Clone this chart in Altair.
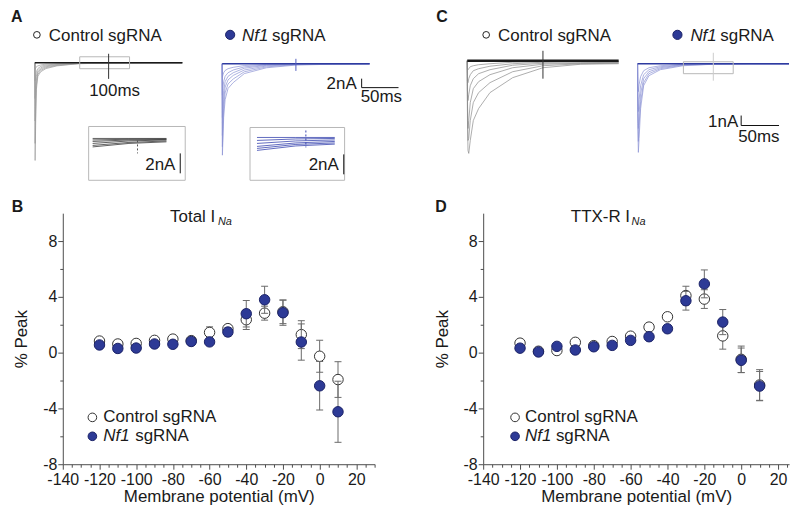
import altair as alt
import pandas as pd

FONT = "Liberation Sans"
BLUE = "#2D3A96"
BLUE_EDGE = "#1B2266"
AX = "#4d4d4d"
TXT = "#1a1a1a"

# ---------------- I-V data (panels B and D) ----------------
voltage = [-120, -110, -100, -90, -80, -70, -60, -50, -40, -30, -20, -10, 0, 10]

b_ctrl_mean = [0.83, 0.62, 0.66, 0.88, 0.97, 0.86, 1.45, 1.72, 2.36, 2.83, 2.93, 1.29, -0.26, -1.93]
b_ctrl_sem = [0.15, 0.15, 0.15, 0.15, 0.15, 0.15, 0.40, 0.25, 0.70, 0.50, 0.85, 1.00, 1.14, 1.28]
b_nf1_mean = [0.55, 0.30, 0.33, 0.62, 0.60, 0.80, 0.77, 1.48, 2.79, 3.79, 2.86, 0.76, -2.38, -4.24]
b_nf1_sem = [0.20, 0.20, 0.25, 0.20, 0.20, 0.15, 0.15, 0.30, 0.95, 0.97, 0.90, 1.30, 1.74, 2.19]

d_ctrl_mean = [0.68, 0.10, 0.15, 0.74, 0.50, 0.80, 1.18, 1.83, 2.57, 4.09, 3.84, 1.20, -0.48, -2.32]
d_ctrl_sem = [0.15, 0.10, 0.15, 0.15, 0.15, 0.20, 0.20, 0.20, 0.20, 0.67, 0.67, 0.95, 0.95, 1.10]
d_nf1_mean = [0.32, 0.05, 0.45, 0.19, 0.42, 0.52, 0.88, 1.14, 1.71, 3.72, 4.93, 2.19, -0.55, -2.40]
d_nf1_sem = [0.15, 0.10, 0.15, 0.20, 0.15, 0.20, 0.20, 0.15, 0.15, 0.67, 1.00, 0.90, 0.88, 1.05]

x_major = [-140, -120, -100, -80, -60, -40, -20, 0, 20]
y_major = [-8, -4, 0, 4, 8]
y_minor = [-6, -2, 2, 6]

# ---------------- current traces (panels A and C), time in ms, current in nA ----------------
trace_t = [0, 0.3, 1, 2, 4, 8, 15, 30, 60, 100, 150, 200]
baseline_t = [0, 200]
baseline_i = [0, 0]

a_ctrl_traces = [
    [0, -21.8, -14, -6, -3.0, -2.0, -1.3, -0.7, -0.2, -0.1, 0, 0],
    [0, -18, -11, -5, -2.6, -1.7, -1.1, -0.6, -0.2, -0.1, 0, 0],
    [0, -13, -8, -4, -2.2, -1.4, -0.9, -0.5, -0.15, -0.05, 0, 0],
    [0, -8, -5, -3, -1.8, -1.1, -0.7, -0.4, -0.1, 0, 0, 0],
    [0, -4, -3, -2, -1.3, -0.8, -0.5, -0.3, -0.1, 0, 0, 0],
    [0, -1.5, -1.2, -0.9, -0.7, -0.5, -0.3, -0.2, -0.05, 0, 0, 0],
]
a_nf1_traces = [
    [0, -20.4, -17, -12, -8, -5.5, -4.2, -2.2, -0.9, -0.3, -0.1, 0],
    [0, -18.5, -15, -10, -6.5, -4.5, -3.4, -1.8, -0.7, -0.2, -0.1, 0],
    [0, -16, -12, -8, -5.2, -3.6, -2.6, -1.4, -0.5, -0.15, 0, 0],
    [0, -12, -9, -6, -4, -2.8, -2.0, -1.0, -0.35, -0.1, 0, 0],
    [0, -7, -5.5, -4, -2.8, -2.0, -1.4, -0.7, -0.25, -0.05, 0, 0],
    [0, -3, -2.5, -2, -1.5, -1.1, -0.8, -0.4, -0.15, 0, 0, 0],
]
c_ctrl_traces = [
    [0, -6, -9.0, -9.3, -8.0, -6.0, -4.8, -3.2, -1.7, -0.7, -0.35, -0.3],
    [0, -5, -8.0, -7.8, -6.0, -4.2, -3.2, -2.2, -1.1, -0.5, -0.3, -0.25],
    [0, -4, -6.8, -6.0, -4.2, -2.8, -2.1, -1.4, -0.7, -0.35, -0.25, -0.2],
    [0, -3, -4.0, -3.4, -2.5, -1.8, -1.3, -0.9, -0.45, -0.25, -0.2, -0.15],
    [0, -2, -2.2, -1.8, -1.4, -1.0, -0.8, -0.55, -0.3, -0.15, -0.1, -0.1],
    [0, -0.8, -0.9, -0.8, -0.6, -0.5, -0.4, -0.3, -0.15, -0.1, -0.05, -0.05],
]
c_nf1_traces = [
    [0, -6, -8.9, -7.5, -4.5, -2.2, -1.2, -0.6, -0.2, -0.05, 0, 0],
    [0, -5, -7.8, -6.2, -3.8, -1.9, -1.0, -0.5, -0.15, -0.05, 0, 0],
    [0, -4, -6.5, -5.0, -3.0, -1.5, -0.8, -0.4, -0.1, 0, 0, 0],
    [0, -3, -4.8, -3.6, -2.2, -1.1, -0.6, -0.3, -0.1, 0, 0, 0],
    [0, -2, -2.8, -2.1, -1.3, -0.7, -0.4, -0.2, -0.05, 0, 0, 0],
]
# magnified insets
inset_ctrl_t = [68.5, 94, 120.3]
inset_ctrl_traces = [
    [0, 0, 0],
    [-0.15, -0.08, -0.05],
    [-0.3, -0.15, -0.1],
    [-0.5, -0.25, -0.15],
    [-0.7, -0.4, -0.25],
    [-0.85, -0.5, -0.34],
]
inset_nf1_t = [65.7, 93, 120.3]
inset_nf1_traces = [
    [0, 0, 0],
    [-0.3, -0.15, -0.1],
    [-0.6, -0.35, -0.25],
    [-0.9, -0.55, -0.4],
    [-1.1, -0.7, -0.55],
    [-1.3, -0.85, -0.67],
]

W_TOP, H_TOP = 784, 205


def xdom(px_ref, val_ref, ppu, W=W_TOP):
    return [val_ref - px_ref / ppu, val_ref + (W - px_ref) / ppu]


def ydom(py_ref, val_ref, ppu, H=H_TOP):
    return [val_ref - (H - py_ref) / ppu, val_ref + py_ref / ppu]


def XS(field, dom):
    return alt.X(field, type="quantitative", scale=alt.Scale(domain=dom, nice=False, zero=False), axis=None)


def YS(field, dom):
    return alt.Y(field, type="quantitative", scale=alt.Scale(domain=dom, nice=False, zero=False), axis=None)


def traces_df(tlist, traces):
    rows = []
    for k, tr in enumerate(traces):
        for t, v in zip(tlist, tr):
            rows.append({"trace": k, "t": t, "I": v})
    return pd.DataFrame(rows)


def lines(tlist, traces, dx, dy, color, width, opacity=1.0):
    return alt.Chart(traces_df(tlist, traces)).mark_line(
        color=color, strokeWidth=width, opacity=opacity
    ).encode(x=XS("t", dx), y=YS("I", dy), detail="trace:N", order="t:Q")


def seg(x1, x2, y1, y2, dx, dy, color, width=1.0, dash=None):
    kw = dict(color=color, strokeWidth=width)
    if dash:
        kw["strokeDash"] = dash
    df = pd.DataFrame({"a": [x1], "b": [x2], "c": [y1], "d": [y2]})
    return alt.Chart(df).mark_rule(**kw).encode(
        x=XS("a", dx), x2="b", y=YS("c", dy), y2="d"
    )


def box(x1, x2, y1, y2, dx, dy, color="#b8b8b8"):
    df = pd.DataFrame({"a": [x1], "b": [x2], "c": [y1], "d": [y2]})
    return alt.Chart(df).mark_rect(fillOpacity=0, stroke=color, strokeWidth=1).encode(
        x=XS("a", dx), x2="b", y=YS("c", dy), y2="d"
    )


def txt(text, x, y, size=17, align="left", baseline="alphabetic", style="normal", weight="normal", color=TXT):
    return alt.Chart(pd.DataFrame({"s": [text]})).mark_text(
        font=FONT, fontSize=size, align=align, baseline=baseline, fontStyle=style,
        fontWeight=weight, color=color
    ).encode(x=alt.value(x), y=alt.value(y), text="s:N")


def dot(x, y, fill, stroke, size):
    return alt.Chart(pd.DataFrame({"s": [0]})).mark_point(
        shape="circle", filled=True, fill=fill, stroke=stroke, strokeWidth=1, size=size, opacity=1
    ).encode(x=alt.value(x), y=alt.value(y))


GRAY_TR = "#9c9c9c"
BLUE_TR = "#8a92d4"

top_layers = []
# ---- Panel A, control ----
dxA1, dyA1 = xdom(24, 0, 0.74), ydom(54, 0, 4.5)
top_layers += [
    lines(trace_t, a_ctrl_traces, dxA1, dyA1, GRAY_TR, 0.7),
    lines(baseline_t, [baseline_i], dxA1, dyA1, "#1a1a1a", 1.6),
    box(60.8, 128.4, -1.33, 1.33, dxA1, dyA1),
    seg(100, 100, 2.0, -3.6, dxA1, dyA1, "#333333", 1),
    txt("100ms", 104, 87, align="center"),
]
dxI1, dyI1 = xdom(127, 100, 1.43), ydom(130, 0, 10)
top_layers += [
    box(65.7, 133.5, 1.2, -4.2, dxI1, dyI1),
    lines(inset_ctrl_t, inset_ctrl_traces, dxI1, dyI1, "#3a3a3a", 0.8),
    seg(100, 100, -0.2, -1.5, dxI1, dyI1, "#555555", 1, [2, 2]),
    seg(130, 130, -1.5, -3.5, dxI1, dyI1, "#111111", 1),
    txt("2nA", 165, 162, align="right"),
]
# ---- Panel A, Nf1 ----
dxA2, dyA2 = xdom(212, 0, 0.74), ydom(55, 0, 4.5)
top_layers += [
    lines(trace_t, a_nf1_traces, dxA2, dyA2, BLUE_TR, 0.7),
    lines(baseline_t, [baseline_i], dxA2, dyA2, "#2e3ba0", 1.6),
    seg(100, 100, 1.1, -1.6, dxA2, dyA2, "#5560c0", 1),
    seg(189.2, 189.2, -5.33, -3.33, dxA2, dyA2, "#111111", 1),
    seg(189.2, 239.2, -5.33, -5.33, dxA2, dyA2, "#111111", 1),
    txt("2nA", 347, 80, align="right"),
    txt("50ms", 351, 93.7),
]
dxI2, dyI2 = xdom(296, 100, 1.43), ydom(129, 0, 10)
top_layers += [
    box(60.8, 127.2, 1.0, -4.3, dxI2, dyI2),
    lines(inset_nf1_t, inset_nf1_traces, dxI2, dyI2, "#3b47b0", 0.8),
    seg(100, 100, 0.7, -1.0, dxI2, dyI2, "#3b47b0", 1, [2, 2]),
    seg(126.6, 126.6, -1.7, -3.7, dxI2, dyI2, "#111111", 1),
    txt("2nA", 329, 162, align="right"),
]
# ---- Panel C, control ----
dxC1, dyC1 = xdom(458, 0, 0.76), ydom(52, 0, 10)
top_layers += [
    lines(trace_t, c_ctrl_traces, dxC1, dyC1, "#8a8a8a", 0.7),
    lines(baseline_t, [baseline_i], dxC1, dyC1, "#1a1a1a", 2.4),
    seg(100, 100, 1.0, -1.8, dxC1, dyC1, "#333333", 1),
]
# ---- Panel C, Nf1 ----
dxC2, dyC2 = xdom(629, 0, 0.76), ydom(55, 0, 10)
top_layers += [
    lines(trace_t, c_nf1_traces, dxC2, dyC2, BLUE_TR, 0.7),
    lines(baseline_t, [baseline_i], dxC2, dyC2, "#2e3ba0", 1.4),
    box(60.5, 126.3, 0.2, -1.0, dxC2, dyC2),
    seg(100, 100, 1.1, -1.7, dxC2, dyC2, "#cccccc", 1),
    seg(136.8, 136.8, -6.2, -5.2, dxC2, dyC2, "#111111", 1),
    seg(136.8, 186.8, -6.2, -6.2, dxC2, dyC2, "#111111", 1),
    txt("1nA", 730, 118.7, align="right"),
    txt("50ms", 730, 133.7),
]
# ---- headers ----
top_layers += [
    txt("A", 0, 0, size=16, baseline="top", weight="bold"),
    txt("C", 427, 0, size=16, baseline="top", weight="bold"),
    dot(26, 26, "white", "#222222", 45),
    txt("Control sgRNA", 38, 32),
    dot(220, 26, BLUE, BLUE_EDGE, 85),
    txt("Nf1", 232, 32, style="italic"),
    txt("sgRNA", 262, 32),
    dot(477, 26, "white", "#222222", 45),
    txt("Control sgRNA", 489, 32),
    dot(669, 26, BLUE, BLUE_EDGE, 85),
    txt("Nf1", 682, 32, style="italic"),
    txt("sgRNA", 712, 32),
]

top = alt.layer(*top_layers).resolve_scale(x="independent", y="independent").properties(
    width=W_TOP, height=H_TOP
)


# ---------------- I-V panels ----------------
def iv_panel(cm, cs, nm, ns, xmax, x_minor, width, title_main, title_na_x, leg_dot_x,
             leg_txt_x, leg_sg_x, label, label_x):
    xs = alt.Scale(domain=[-140, xmax], nice=False, zero=False)
    ys = alt.Scale(domain=[-8, 10], nice=False, zero=False)

    def frame(m, s):
        return pd.DataFrame({
            "v": voltage, "m": m,
            "lo": [a - b for a, b in zip(m, s)],
            "hi": [a + b for a, b in zip(m, s)],
        })

    dc, dn = frame(cm, cs), frame(nm, ns)

    def caps(df):
        return pd.concat([
            pd.DataFrame({"v": df["v"], "e": df["lo"]}),
            pd.DataFrame({"v": df["v"], "e": df["hi"]}),
        ])

    x_none = alt.X("v:Q", scale=xs, axis=None)

    major_x = alt.Axis(orient="bottom", values=x_major, tickSize=5, grid=False,
                       labelFont=FONT, labelFontSize=16, labelColor=TXT, labelPadding=2,
                       labelOverlap=False, labelFlush=False, labelExpr="'' + datum.value",
                       domainColor=AX, tickColor=AX, title="Membrane potential (mV)",
                       titleFont=FONT, titleFontSize=17, titleFontWeight="normal",
                       titleColor=TXT, titlePadding=1)
    major_y = alt.Axis(orient="left", values=y_major, tickSize=5, grid=False,
                       labelFont=FONT, labelFontSize=16, labelColor=TXT, labelPadding=1,
                       labelOverlap=False, labelFlush=False, labelExpr="'' + datum.value",
                       domainColor=AX, tickColor=AX, title="% Peak",
                       titleFont=FONT, titleFontSize=17, titleFontWeight="normal",
                       titleColor=TXT, titlePadding=12)
    minor_x = alt.Axis(orient="bottom", values=x_minor, tickSize=3, labels=False,
                       domain=False, grid=False, title=None, tickColor=AX)
    minor_y = alt.Axis(orient="left", values=y_minor, tickSize=3, labels=False,
                       domain=False, grid=False, title=None, tickColor=AX)

    ERR = "#6a6a6a"
    layers = [
        alt.Chart(dc).mark_point(opacity=0).encode(
            x=alt.X("v:Q", scale=xs, axis=minor_x), y=alt.Y("m:Q", scale=ys, axis=minor_y)),
        alt.Chart(dc).mark_rule(color=ERR, strokeWidth=1).encode(
            x=x_none, y=alt.Y("lo:Q", scale=ys, axis=None), y2="hi"),
        alt.Chart(caps(dc)).mark_tick(orient="horizontal", size=7, thickness=1, color=ERR, opacity=1).encode(
            x=x_none, y=alt.Y("e:Q", scale=ys, axis=None)),
        alt.Chart(dc).mark_point(shape="circle", filled=True, fill="white", stroke="#333333",
                                 strokeWidth=1, size=110, opacity=1).encode(
            x=alt.X("v:Q", scale=xs, axis=major_x), y=alt.Y("m:Q", scale=ys, axis=major_y)),
        alt.Chart(dn).mark_rule(color=ERR, strokeWidth=1).encode(
            x=x_none, y=alt.Y("lo:Q", scale=ys, axis=None), y2="hi"),
        alt.Chart(caps(dn)).mark_tick(orient="horizontal", size=7, thickness=1, color=ERR, opacity=1).encode(
            x=x_none, y=alt.Y("e:Q", scale=ys, axis=None)),
        alt.Chart(dn).mark_point(shape="circle", filled=True, fill=BLUE, stroke=BLUE_EDGE,
                                 strokeWidth=1, size=110, opacity=1).encode(
            x=x_none, y=alt.Y("m:Q", scale=ys, axis=None)),
        # title
        txt(title_main, title_na_x[0], 9, size=17),
        txt("Na", title_na_x[1], 12, size=11, style="italic"),
        # legend
        dot(leg_dot_x, 205, "white", "#333333", 75),
        txt("Control sgRNA", leg_txt_x, 210),
        dot(leg_dot_x, 224, BLUE, BLUE_EDGE, 75),
        txt("Nf1", leg_txt_x, 229, style="italic"),
        txt("sgRNA", leg_sg_x, 229),
        # panel label
        txt(label, label_x, -14, size=16, baseline="top", weight="bold"),
    ]
    return alt.layer(*layers).resolve_axis(x="independent", y="independent").properties(
        width=width, height=252
    )


def spacer(w):
    return alt.Chart(pd.DataFrame({"s": [0]})).mark_point(opacity=0).encode(
        x=alt.value(0), y=alt.value(0)
    ).properties(width=w, height=252)


minor_b = [v for v in range(-135, 31, 5) if v not in x_major]
minor_d = [v for v in range(-135, 26, 5) if v not in x_major]

panel_b = iv_panel(b_ctrl_mean, b_ctrl_sem, b_nf1_mean, b_nf1_sem, 30, minor_b, 313.1,
                   "Total I", (107.7, 155.7), 29.7, 40.7, 72.7, "B", -51.3)
panel_d = iv_panel(d_ctrl_mean, d_ctrl_sem, d_nf1_mean, d_nf1_sem, 26, minor_d, 307.1,
                   "TTX-R I", (88, 149), 32, 42, 73, "D", -48)

bottom = alt.hconcat(spacer(51.3), panel_b, spacer(107.6), panel_d, spacing=0, bounds="flush")

chart = alt.vconcat(top, bottom, spacing=0, bounds="flush").properties(
    padding=0, background="white"
).configure_view(stroke=None)

chart.save("out.html", embed_options={"renderer": "svg", "actions": False})
